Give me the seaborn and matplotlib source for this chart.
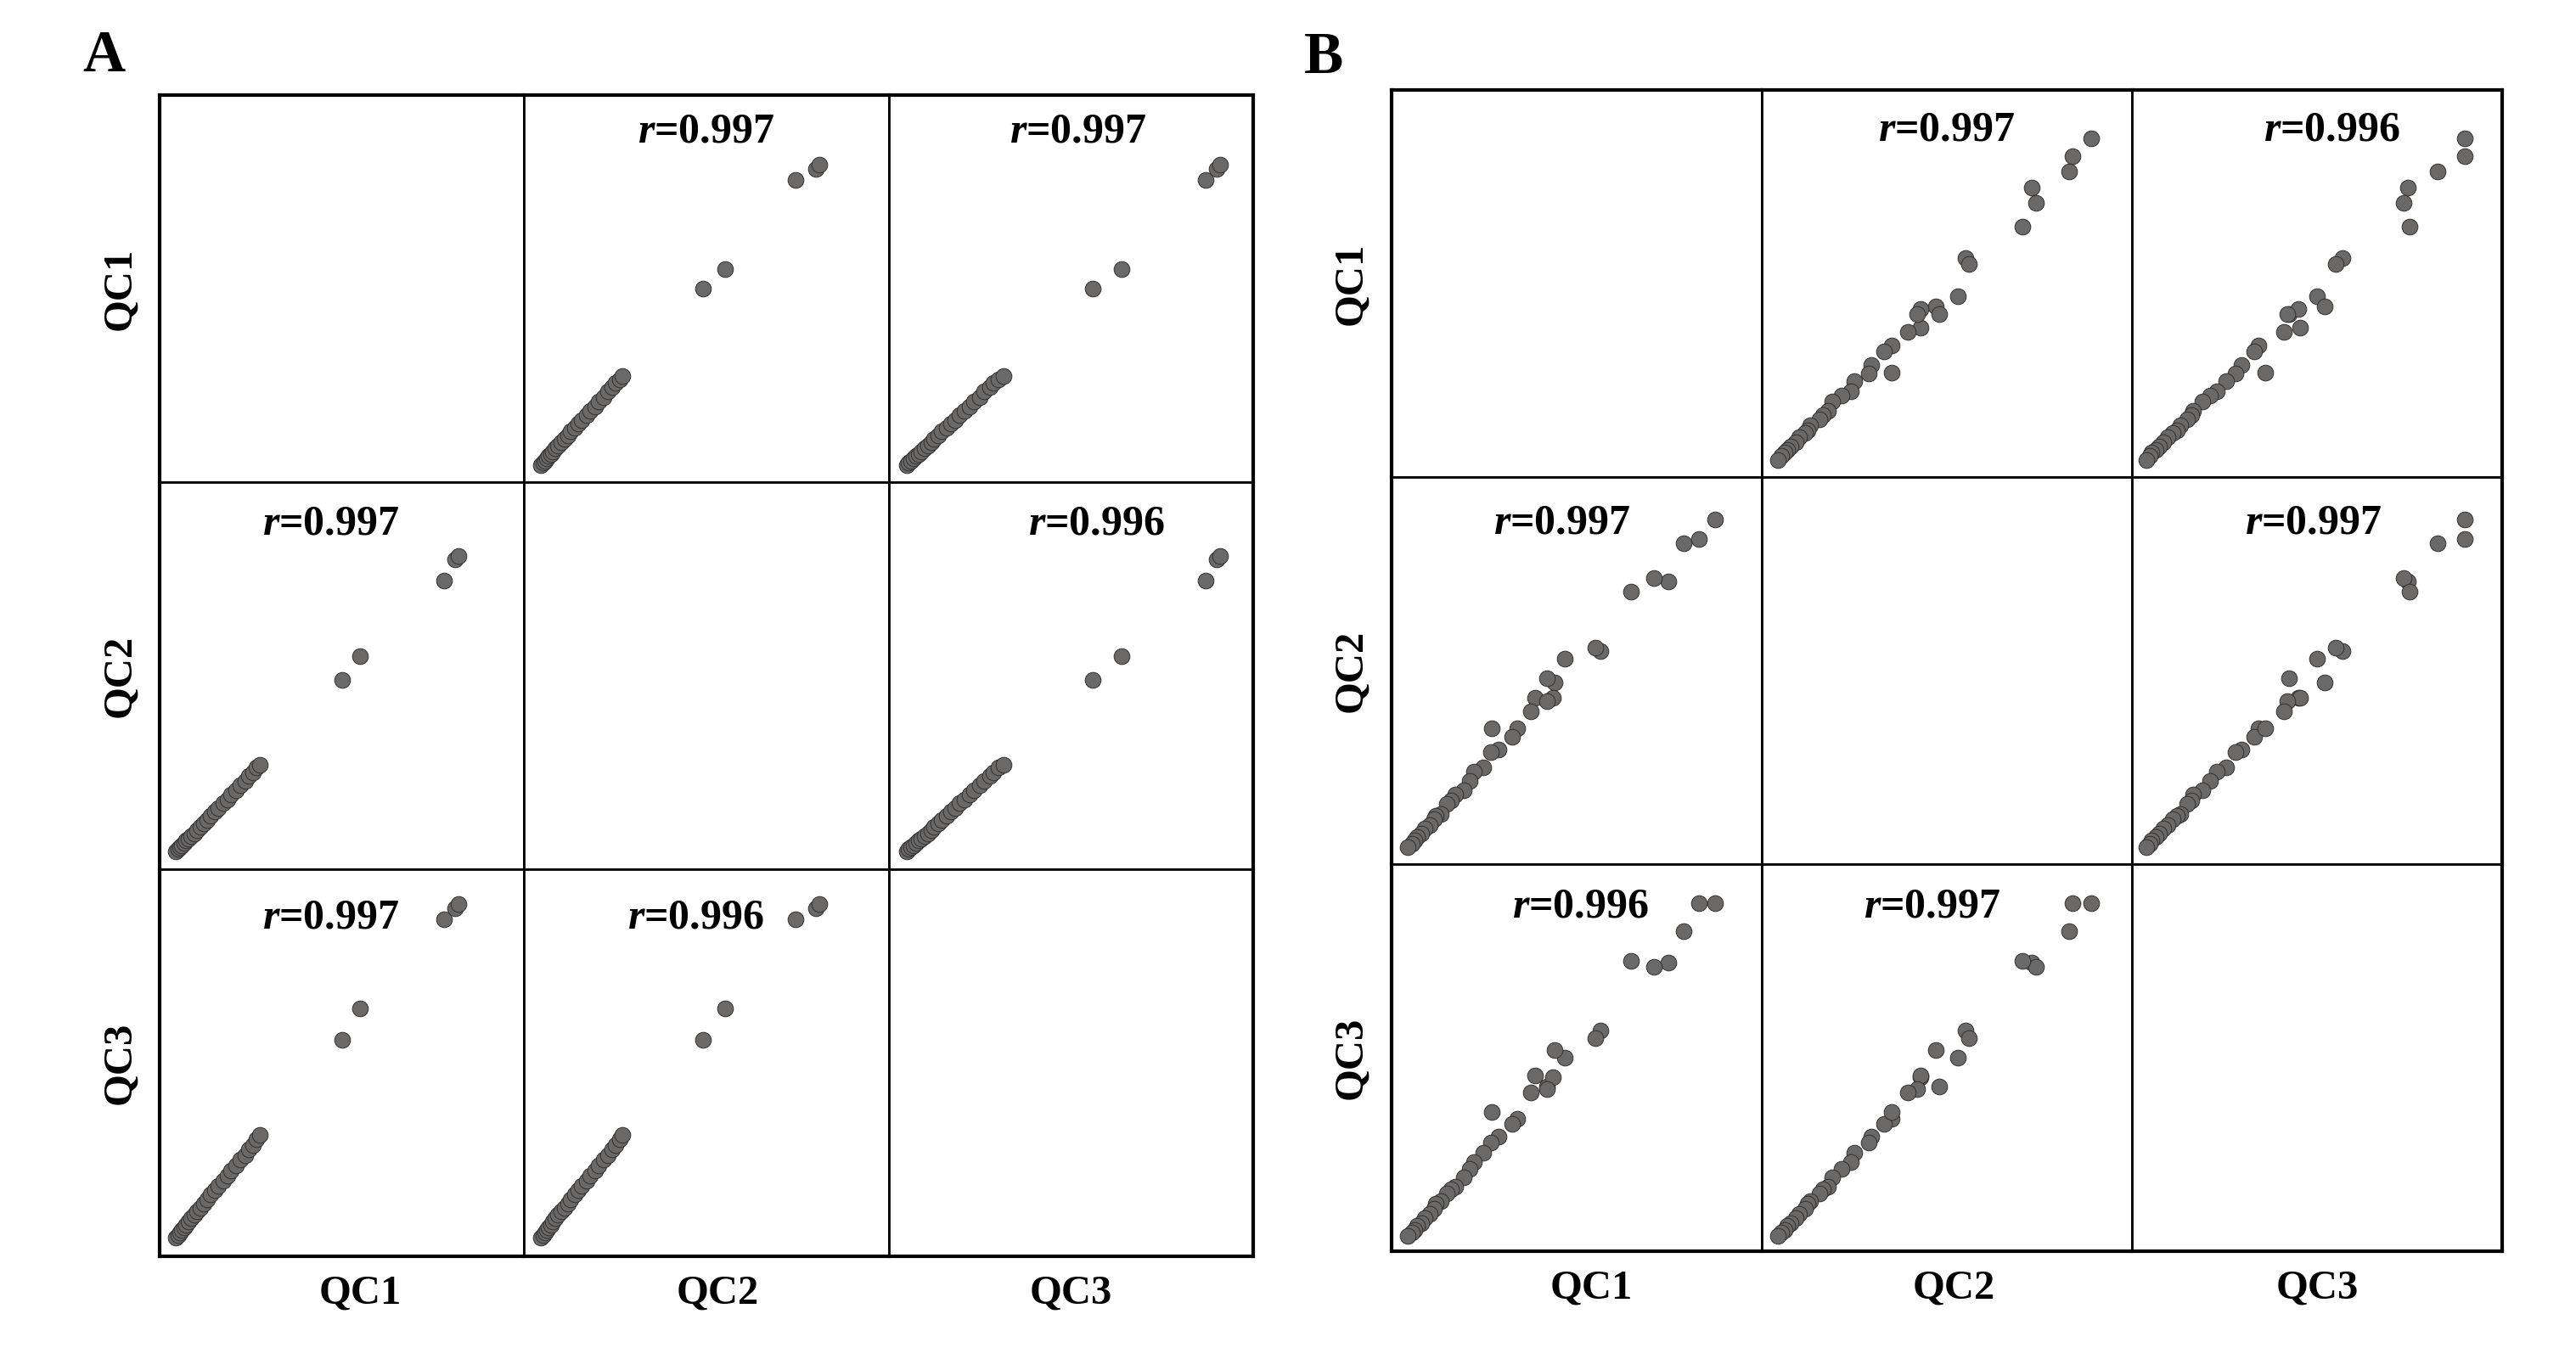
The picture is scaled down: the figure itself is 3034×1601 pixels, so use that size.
import matplotlib
matplotlib.use("Agg")
import pandas as pd
import matplotlib.pyplot as plt
import seaborn as sns

# -----------------------------------------------------------------------------
# Style
# -----------------------------------------------------------------------------
sns.set_style("white")
plt.rcParams['font.family'] = ['Liberation Serif', 'DejaVu Serif']
plt.rcParams['text.color'] = 'black'
plt.rcParams['mathtext.fontset'] = 'custom'
plt.rcParams['mathtext.it'] = 'Liberation Serif:italic:bold'
plt.rcParams['mathtext.rm'] = 'Liberation Serif:bold'

SAMPLES = ["QC1", "QC2", "QC3"]

# -----------------------------------------------------------------------------
# Data (relative intensities)
# -----------------------------------------------------------------------------
# Panel A
a_qc1 = [4.5, 5.0, 5.6, 6.1, 6.8, 7.3, 8.0, 8.7, 9.5, 10.3, 11.2, 12.0, 13.1,
         14.0, 15.2, 16.1, 17.4, 18.5, 19.6, 20.9, 22.0, 23.4, 24.5, 25.6,
         26.6, 27.5, 50.0, 55.0, 78.0, 81.0, 82.0]
a_qc2 = [4.6, 5.2, 5.7, 6.2, 6.7, 7.4, 7.9, 8.6, 9.3, 10.1, 11.0, 11.9, 12.8,
         13.8, 14.9, 15.8, 17.1, 18.0, 19.4, 20.4, 21.8, 22.9, 24.2, 25.1,
         26.3, 27.0, 49.0, 55.0, 74.5, 80.0, 81.0]
a_qc3 = [4.9, 5.5, 6.1, 6.8, 7.5, 8.2, 9.0, 9.8, 10.7, 11.6, 12.5, 13.6, 14.6,
         15.9, 17.0, 18.3, 19.5, 20.8, 22.2, 23.4, 24.9, 26.1, 27.7, 28.8,
         30.2, 31.4, 56.0, 64.0, 87.0, 90.0, 91.0]

# Panel B
b_qc1 = [87.5, 83.0, 79.0, 74.8, 70.8, 64.8,
         56.5, 55.0, 46.8, 44.0, 42.0, 43.5, 38.7, 42.0, 37.6, 34.0, 32.5,
         27.0,
         29.0, 26.8, 24.8, 22.2, 21.0, 19.6, 17.2, 16.0, 15.0, 13.3, 12.0,
         11.4, 10.3, 9.0, 8.0, 7.0, 6.3, 5.5, 4.4]
b_qc2 = [89.0, 84.0, 83.0, 73.0, 74.0, 70.5,
         55.0, 56.0, 53.0, 47.0, 48.0, 43.0, 43.0, 42.0, 39.5, 35.0, 33.0,
         35.0,
         29.5, 29.0, 25.0, 24.0, 21.5, 19.0, 18.0, 16.5, 15.5, 13.0, 12.5,
         11.6, 10.0, 9.2, 7.8, 7.0, 6.2, 5.3, 4.3]
b_qc3 = [90.0, 90.0, 82.6, 74.5, 73.5, 75.0,
         57.0, 55.0, 50.0, 52.0, 42.5, 45.0, 45.5, 42.0, 41.0, 34.3, 33.0,
         36.0,
         29.7, 28.0, 25.5, 23.0, 21.2, 19.0, 16.6, 16.0, 15.0, 13.0, 12.2,
         11.0, 9.7, 8.5, 7.3, 6.5, 5.4, 4.8, 3.9]

# Pearson r shown in each off-diagonal cell (row, col)
r_a = [[None, 0.997, 0.997],
       [0.997, None, 0.996],
       [0.997, 0.996, None]]
r_b = [[None, 0.997, 0.996],
       [0.997, None, 0.997],
       [0.996, 0.997, None]]

# -----------------------------------------------------------------------------
# Layout
# -----------------------------------------------------------------------------
# axes-fraction centres of the r labels
text_pos_a = {(0, 1): (0.50, 0.905), (0, 2): (0.52, 0.905),
              (1, 0): (0.47, 0.892), (1, 2): (0.57, 0.892),
              (2, 0): (0.47, 0.874), (2, 1): (0.47, 0.874)}
text_pos_b = {(0, 1): (0.50, 0.895), (0, 2): (0.54, 0.895),
              (1, 0): (0.46, 0.880), (1, 2): (0.49, 0.880),
              (2, 0): (0.51, 0.890), (2, 1): (0.46, 0.890)}

POINT_COLOR = "#6b6868"
EDGE_COLOR = "#303030"


def draw_matrix(fig, df, rvals, text_pos, rect, letter, letter_xy, col_label_x):
    left, right, bottom, top = rect
    gs = fig.add_gridspec(3, 3, left=left, right=right, bottom=bottom, top=top,
                          wspace=0, hspace=0)
    for i, row in enumerate(SAMPLES):
        for j, col in enumerate(SAMPLES):
            ax = fig.add_subplot(gs[i, j])
            if i != j:
                sns.scatterplot(data=df, x=col, y=row, ax=ax, s=180,
                                color=POINT_COLOR, edgecolor=EDGE_COLOR,
                                linewidth=0.7, legend=False, zorder=3)
                tx, ty = text_pos[(i, j)]
                ax.text(tx, ty, r"$r$=" + f"{rvals[i][j]:.3f}",
                        transform=ax.transAxes, ha='center', va='center',
                        fontsize=36, fontweight='bold', color='black')
            ax.set_xlim(0, 100)
            ax.set_ylim(0, 100)
            ax.set_xticks([])
            ax.set_yticks([])
            ax.set_xlabel("")
            ax.set_ylabel("")
            for name, sp in ax.spines.items():
                sp.set_color("black")
                outer = ((name == 'top' and i == 0) or (name == 'bottom' and i == 2)
                         or (name == 'left' and j == 0) or (name == 'right' and j == 2))
                sp.set_linewidth(3.0 if outer else 2.0)
            if i == 2:
                ax.text(col_label_x[j], -0.095, col, transform=ax.transAxes,
                        ha='center', va='center', fontsize=35, fontweight='bold',
                        color='black')
            if j == 0:
                ax.text(-0.11, 0.5, row, transform=ax.transAxes, rotation=90,
                        ha='center', va='center', fontsize=35, fontweight='bold',
                        color='black')
    fig.text(letter_xy[0], letter_xy[1], letter, ha='center', va='center',
             fontsize=50, fontweight='bold', color='black')


def main():
    df_a = pd.DataFrame({"QC1": a_qc1, "QC2": a_qc2, "QC3": a_qc3})
    df_b = pd.DataFrame({"QC1": b_qc1, "QC2": b_qc2, "QC3": b_qc3})

    fig = plt.figure(figsize=(30.34, 16.01), dpi=100)
    fig.patch.set_facecolor("white")

    draw_matrix(fig, df_a, r_a, text_pos_a,
                rect=(0.062, 0.4865, 0.0756, 0.930),
                letter="A", letter_xy=(0.0402, 0.958),
                col_label_x=[0.55, 0.53, 0.50])
    draw_matrix(fig, df_b, r_b, text_pos_b,
                rect=(0.5402, 0.9713, 0.0793, 0.9338),
                letter="B", letter_xy=(0.5138, 0.957),
                col_label_x=[0.54, 0.52, 0.50])

    fig.savefig("out.png", dpi=100, facecolor="white")
    plt.close(fig)


if __name__ == "__main__":
    main()
